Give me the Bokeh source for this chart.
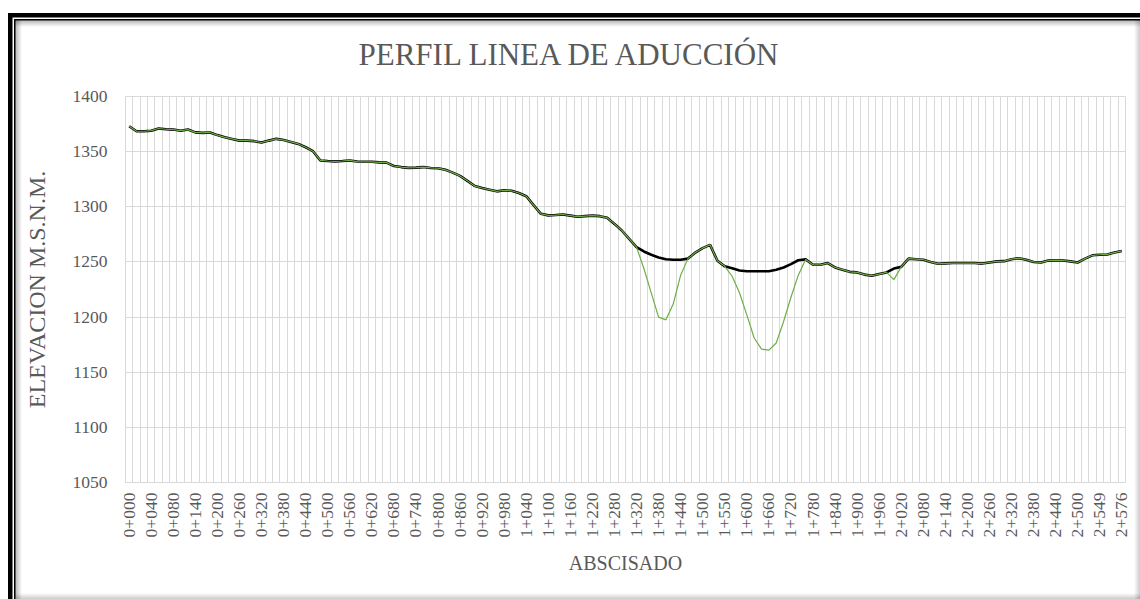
import math
from bokeh.plotting import figure
from bokeh.models import FixedTicker, Range1d
from bokeh.embed import file_html
from bokeh.resources import INLINE

TITLE = "PERFIL LINEA DE ADUCCIÓN"
X_TITLE = "ABSCISADO"
Y_TITLE = "ELEVACION M.S.N.M."

# labels shown every 3rd category
TICK_LABELS = [
    "0+000", "0+040", "0+080", "0+140", "0+200", "0+260", "0+320", "0+380",
    "0+440", "0+500", "0+560", "0+620", "0+680", "0+740", "0+800", "0+860",
    "0+920", "0+980", "1+040", "1+100", "1+160", "1+220", "1+280", "1+320",
    "1+380", "1+440", "1+500", "1+550", "1+600", "1+660", "1+720", "1+780",
    "1+840", "1+900", "1+960", "2+020", "2+080", "2+140", "2+200", "2+260",
    "2+320", "2+380", "2+440", "2+500", "2+549", "2+576",
]
LABEL_STEP = 3
Y_TICKS = [1050, 1100, 1150, 1200, 1250, 1300, 1350, 1400]

# black line (design / pipe line)
rasante = [
    1373, 1368.5, 1368.5, 1369, 1371, 1370.3, 1370, 1369, 1370, 1367.5,
    1367, 1367.4, 1365, 1363, 1361.5, 1360, 1360, 1359.5, 1358.3, 1360,
    1361.6, 1360.5, 1358.8, 1357, 1354, 1350.4, 1342, 1341.5, 1341.2, 1341.5,
    1342, 1341, 1340.8, 1340.8, 1340.3, 1340, 1337, 1336, 1335.3, 1335.5,
    1336, 1335.2, 1335, 1333.5, 1331, 1328, 1323.5, 1318.8, 1317, 1315.5,
    1314, 1315, 1314.5, 1312.5, 1309.6, 1301.5, 1293.6, 1292.2, 1292.5, 1293,
    1292, 1291, 1291.5, 1292, 1291.5, 1290, 1284.5, 1278.5, 1271, 1263.5,
    1259.5, 1256.5, 1254, 1252.5, 1252, 1252, 1253, 1258.5, 1262.5, 1265.5,
    1251, 1246, 1244.3, 1242.2, 1241.6, 1241.6, 1241.6, 1241.6, 1243, 1245,
    1248, 1251.5, 1252.3, 1247.4, 1247.4, 1249, 1245, 1243, 1241, 1240.5,
    1238.5, 1237.5, 1239, 1240.5, 1244, 1245.5, 1253, 1252.5, 1252, 1250,
    1248.3, 1248.7, 1249, 1249, 1249, 1249, 1248.5, 1249.5, 1250.5, 1250.7,
    1252.5, 1253.4, 1252, 1250, 1249.5, 1251.2, 1251.3, 1251.3, 1250.5, 1249.5,
    1253, 1256, 1256.5, 1256.8, 1258.5, 1260,
]

# green line (terrain)
terreno = [
    1373, 1368.5, 1368.5, 1369, 1371, 1370.3, 1370, 1369, 1370, 1367.5,
    1367, 1367.4, 1365, 1363, 1361.5, 1360, 1360, 1359.5, 1358.3, 1360,
    1361.6, 1360.5, 1358.8, 1357, 1354, 1350.4, 1342, 1341.5, 1341.2, 1341.5,
    1342, 1341, 1340.8, 1340.8, 1340.3, 1340, 1337, 1336, 1335.3, 1335.5,
    1336, 1335.2, 1335, 1333.5, 1331, 1328, 1323.5, 1318.8, 1317, 1315.5,
    1314, 1315, 1314.5, 1312.5, 1309.6, 1301.5, 1293.6, 1292.2, 1292.5, 1293,
    1292, 1291, 1291.5, 1292, 1291.5, 1290, 1284.5, 1278.5, 1271, 1263.5,
    1244, 1222, 1200, 1197.5, 1212, 1238, 1253, 1258.5, 1262.5, 1265.5,
    1251, 1246, 1237, 1222, 1202, 1181, 1171, 1170, 1176.5, 1196,
    1218, 1238, 1252.3, 1247.4, 1247.4, 1249, 1245, 1243, 1241, 1240.5,
    1238.5, 1237.5, 1239, 1240.5, 1234, 1245.5, 1253, 1252.5, 1252, 1250,
    1248.3, 1248.7, 1249, 1249, 1249, 1249, 1248.5, 1249.5, 1250.5, 1250.7,
    1252.5, 1253.4, 1252, 1250, 1249.5, 1251.2, 1251.3, 1251.3, 1250.5, 1249.5,
    1253, 1256, 1256.5, 1256.8, 1258.5, 1260,
]

n = len(rasante)
xs = list(range(n))

FONT = "Liberation Serif"
TXT = "#595959"
GRID = "#D9D9D9"

# chart-area frame painted behind the (transparent) canvas border
FRAME_BG = ", ".join([
    "linear-gradient(#000,#000) 8px 13px / 1132px 4.5px no-repeat",
    "linear-gradient(#000,#000) 8px 13px / 4.5px 586px no-repeat",
    "linear-gradient(#000,#000) 13.5px 18.5px / 1126.5px 1.5px no-repeat",
    "linear-gradient(#000,#000) 13.5px 18.5px / 1.5px 580.5px no-repeat",
    "linear-gradient(to right, rgba(0,0,0,0.3), rgba(0,0,0,0)) 15px 20px / 7px 579px no-repeat",
    "linear-gradient(to bottom, rgba(0,0,0,0.3), rgba(0,0,0,0)) 15px 20px / 1125px 7px no-repeat",
    "linear-gradient(to left, rgba(0,0,0,0.2), rgba(0,0,0,0)) 1134px 20px / 6px 579px no-repeat",
    "linear-gradient(to top, rgba(0,0,0,0.2), rgba(0,0,0,0)) 15px 593px / 1125px 6px no-repeat",
    "#ffffff",
])

p = figure(
    width=1140, height=599,
    output_backend="svg", toolbar_location=None,
    x_range=Range1d(-0.5, n - 0.5), y_range=Range1d(1050, 1400),
    min_border_left=125, min_border_right=15,
    min_border_top=96, min_border_bottom=117,
    title=TITLE,
    styles={"background": FRAME_BG},
)

p.title.text_font = FONT
p.title.text_font_size = "31px"
p.title.text_font_style = "normal"
p.title.text_color = TXT
p.title.align = "left"
p.title.offset = 233
p.title.standoff = 50

p.outline_line_color = GRID
p.background_fill_color = "white"
p.border_fill_color = None

p.xgrid.ticker = FixedTicker(ticks=[i - 0.5 for i in range(n + 1)])
p.xgrid.grid_line_color = GRID
p.ygrid.ticker = FixedTicker(ticks=Y_TICKS)
p.ygrid.grid_line_color = GRID

p.xaxis.ticker = FixedTicker(ticks=[k * LABEL_STEP for k in range(len(TICK_LABELS))])
p.xaxis.major_label_overrides = {k * LABEL_STEP: lbl for k, lbl in enumerate(TICK_LABELS)}
p.xaxis.major_label_orientation = math.pi / 2
p.yaxis.ticker = FixedTicker(ticks=Y_TICKS)

for ax in (p.xaxis[0], p.yaxis[0]):
    ax.axis_line_color = None
    ax.major_tick_line_color = None
    ax.minor_tick_line_color = None
    ax.major_tick_out = 0
    ax.major_tick_in = 0
    ax.minor_tick_out = 0
    ax.minor_tick_in = 0
    ax.major_label_text_font = FONT
    ax.major_label_text_font_size = "17.5px"
    ax.major_label_text_color = TXT
    ax.axis_label_text_font = FONT
    ax.axis_label_text_font_size = "20px"
    ax.axis_label_text_font_style = "normal"
    ax.axis_label_text_color = TXT

p.yaxis.axis_label_text_font_size = "24px"
p.xaxis.axis_label = X_TITLE
p.yaxis.axis_label = Y_TITLE
p.xaxis.major_label_standoff = 10
p.xaxis.axis_label_standoff = 12
p.yaxis.major_label_standoff = 18
p.yaxis.axis_label_standoff = 20

p.line(xs, rasante, line_color="black", line_width=2.6)
p.line(xs, terreno, line_color="#70AD47", line_width=1.2)

open("out.html", "w").write(file_html(p, INLINE))
